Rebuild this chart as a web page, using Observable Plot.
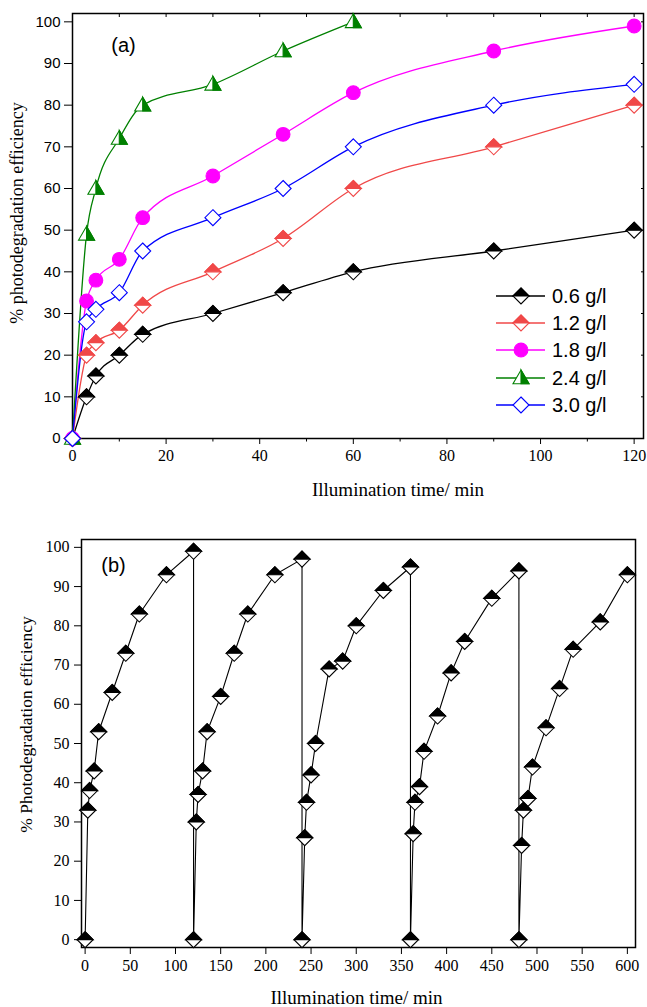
<!DOCTYPE html>
<html>
<head>
<meta charset="utf-8">
<script src="https://cdn.jsdelivr.net/npm/d3@7"></script>
<script src="https://cdn.jsdelivr.net/npm/@observablehq/plot@0.6"></script>
<style>
  html, body { margin: 0; padding: 0; background: #fff; }
  #root { width: 647px; height: 1007px; position: relative; }
  #root svg { display: block; }
</style>
</head>
<body>
<div id="root"></div>
<script>
// ---------- Panel (a) data ----------
const timeA = [0, 3, 5, 10, 15, 30, 45, 60, 90, 120];
const dose06 = [0, 10, 15, 20, 25, 30, 35, 40, 45, 50];
const dose12 = [0, 20, 23, 26, 32, 40, 48, 60, 70, 80];
const dose18 = [0, 33, 38, 43, 53, 63, 73, 83, 93, 99];
const dose24 = [0, 49, 60, 72, 80, 85, 93, 100];
const dose30 = [0, 28, 31, 35, 45, 53, 60, 70, 80, 85];
const seriesNames = ["0.6 g/l", "1.2 g/l", "1.8 g/l", "2.4 g/l", "3.0 g/l"];
const ticksAX = [0, 20, 40, 60, 80, 100, 120];
const ticksAY = [0, 10, 20, 30, 40, 50, 60, 70, 80, 90, 100];

// ---------- Panel (b) data ----------
const cycleStart = [0, 120, 240, 360, 480];
const cycleOffset = [0, 3, 5, 10, 15, 30, 45, 60, 90, 120];
const cycle1 = [0, 33, 38, 43, 53, 63, 73, 83, 93, 99];
const cycle2 = [0, 30, 37, 43, 53, 62, 73, 83, 93, 97];
const cycle3 = [0, 26, 35, 42, 50, 69, 71, 80, 89, 95];
const cycle4 = [0, 27, 35, 39, 48, 57, 68, 76, 87, 94];
const cycle5 = [0, 24, 33, 36, 44, 54, 64, 74, 81, 93];
const ticksBX = [0, 50, 100, 150, 200, 250, 300, 350, 400, 450, 500, 550, 600];
const ticksBY = [0, 10, 20, 30, 40, 50, 60, 70, 80, 90, 100];

// ---------- symbols ----------
const rad = size => Math.sqrt(size / Math.PI);
const symDiamond = {draw(c, s) {const r = rad(s); c.moveTo(0, -r); c.lineTo(r, 0); c.lineTo(0, r); c.lineTo(-r, 0); c.closePath();}};
const symDiamondTop = {draw(c, s) {const r = rad(s); c.moveTo(-r, 0); c.lineTo(0, -r); c.lineTo(r, 0); c.closePath();}};
const symTri = {draw(c, s) {const r = rad(s); c.moveTo(0, -r); c.lineTo(r, 0.72 * r); c.lineTo(-r, 0.72 * r); c.closePath();}};
const symTriRight = {draw(c, s) {const r = rad(s); c.moveTo(0, -r); c.lineTo(r, 0.72 * r); c.lineTo(0, 0.72 * r); c.closePath();}};
const symCircle = {draw(c, s) {const r = rad(s) * 0.86; c.moveTo(r, 0); c.arc(0, 0, r, 0, 2 * Math.PI);}};

const colors = ["#000000", "#f04848", "#ff00ff", "#008000", "#0000ff"];
// marker layers: [symbol, fill, stroke]
const markerStyles = [
  [[symDiamond, "#fff", colors[0]], [symDiamondTop, colors[0], colors[0]]],
  [[symDiamond, "#fff", colors[1]], [symDiamondTop, colors[1], colors[1]]],
  [[symCircle, colors[2], colors[2]]],
  [[symTri, "#fff", colors[3]], [symTriRight, colors[3], colors[3]]],
  [[symDiamond, "#fff", colors[4]]]
];

const valuesA = [dose06, dose12, dose18, dose24, dose30];
const tableA = valuesA.map((vals, i) => vals.map((v, j) => ({t: timeA[j], v, s: seriesNames[i]})));

const SERIF = "Liberation Serif, Times New Roman, serif";
const SANS = "Liberation Sans, Arial, sans-serif";

const marksA = [];
marksA.push(Plot.frame({stroke: "black", strokeWidth: 1.5}));
marksA.push(Plot.axisX({ticks: ticksAX, tickSize: 6, tickPadding: 5, fontSize: 16, label: null}));
marksA.push(Plot.axisX({ticks: d3.range(10, 121, 20), tickSize: 3.5, tickFormat: () => "", label: null}));
marksA.push(Plot.axisX({anchor: "top", ticks: d3.range(0, 121, 10), tickSize: -3, tickFormat: () => "", label: null}));
marksA.push(Plot.axisY({ticks: ticksAY, tickSize: 8, tickPadding: 4, fontFamily: SANS, fontSize: 15, label: null}));
marksA.push(Plot.axisY({anchor: "right", ticks: ticksAY, tickSize: -3, tickFormat: () => "", label: null}));
tableA.forEach((rows, i) => {
  marksA.push(Plot.line(rows, {x: "t", y: "v", stroke: colors[i], strokeWidth: 1.3, curve: "monotone-x"}));
});
tableA.forEach((rows, i) => {
  markerStyles[i].forEach(([sym, fill, stroke]) => {
    marksA.push(Plot.dot(rows, {x: "t", y: "v", r: 8, symbol: sym, fill, stroke, strokeWidth: 1.1}));
  });
});
marksA.push(Plot.text(["(a)"], {frameAnchor: "top-left", dx: 51, dy: 32, fontFamily: SANS, fontSize: 20, textAnchor: "middle", lineAnchor: "middle"}));
marksA.push(Plot.text(["% photodegradation efficiency"], {frameAnchor: "left", dx: -55, dy: -13, rotate: -90, fontFamily: SERIF, fontSize: 18, textAnchor: "middle", lineAnchor: "middle"}));
marksA.push(Plot.text(["Illumination time/ min"], {frameAnchor: "bottom", dx: 40, dy: 51, fontFamily: SERIF, fontSize: 19, textAnchor: "middle", lineAnchor: "middle"}));

const chartA = Plot.plot({
  width: 647, height: 505,
  marginTop: 13, marginBottom: 67, marginLeft: 72, marginRight: 4,
  x: {domain: [0, 122]},
  y: {domain: [0, 102]},
  style: {fontFamily: SERIF, fontSize: "16px", background: "white", color: "black", overflow: "visible"},
  marks: marksA
});

// Legend for panel (a)
const legendRowsY = [296, 323, 350, 378, 405];
const lg = d3.select(chartA).append("g").attr("class", "legend").attr("text-anchor", "start");
seriesNames.forEach((name, i) => {
  const y = legendRowsY[i];
  lg.append("line").attr("x1", 496).attr("x2", 545).attr("y1", y).attr("y2", y)
    .attr("stroke", colors[i]).attr("stroke-width", 1.3);
  markerStyles[i].forEach(([sym, fill, stroke]) => {
    lg.append("path").attr("d", d3.symbol(sym, Math.PI * 64)())
      .attr("transform", `translate(521,${y})`)
      .attr("fill", fill).attr("stroke", stroke).attr("stroke-width", 1.1);
  });
  lg.append("text").attr("x", 552).attr("y", y).attr("dy", "0.35em")
    .attr("text-anchor", "start")
    .attr("font-family", SANS).attr("font-size", 20).attr("fill", "black").text(name);
});

// ---------- Panel (b) ----------
const cycles = [cycle1, cycle2, cycle3, cycle4, cycle5];
const tableB = cycles.flatMap((vals, c) => vals.map((v, j) => ({t: cycleStart[c] + cycleOffset[j], v})));

const chartB = Plot.plot({
  width: 647, height: 502,
  marginTop: 34, marginBottom: 60, marginLeft: 81, marginRight: 12,
  x: {domain: [-4, 609]},
  y: {domain: [-2, 102]},
  style: {fontFamily: SERIF, fontSize: "16px", background: "white", color: "black", overflow: "visible"},
  marks: [
    Plot.frame({stroke: "black", strokeWidth: 1.5}),
    Plot.axisX({ticks: ticksBX, tickSize: 7, tickPadding: 5, fontSize: 16, label: null}),
    Plot.axisY({ticks: ticksBY, tickSize: 7, tickPadding: 5, fontSize: 16, label: null}),
    Plot.line(tableB, {x: "t", y: "v", stroke: "black", strokeWidth: 1.1}),
    Plot.dot(tableB, {x: "t", y: "v", r: 8, symbol: symDiamond, fill: "#fff", stroke: "black", strokeWidth: 1.1}),
    Plot.dot(tableB, {x: "t", y: "v", r: 8, symbol: symDiamondTop, fill: "black", stroke: "black", strokeWidth: 1.1}),
    Plot.text(["(b)"], {frameAnchor: "top-left", dx: 32, dy: 26, fontFamily: SANS, fontSize: 20, textAnchor: "middle", lineAnchor: "middle"}),
    Plot.text(["% Photodegradation efficiency"], {frameAnchor: "left", dx: -55, dy: -19, rotate: -90, fontFamily: SERIF, fontSize: 17.5, textAnchor: "middle", lineAnchor: "middle"}),
    Plot.text(["Illumination time/ min"], {frameAnchor: "bottom", dx: -2, dy: 50, fontFamily: SERIF, fontSize: 19, textAnchor: "middle", lineAnchor: "middle"})
  ]
});

const root = document.getElementById("root");
root.appendChild(chartA);
root.appendChild(chartB);
</script>
</body>
</html>
